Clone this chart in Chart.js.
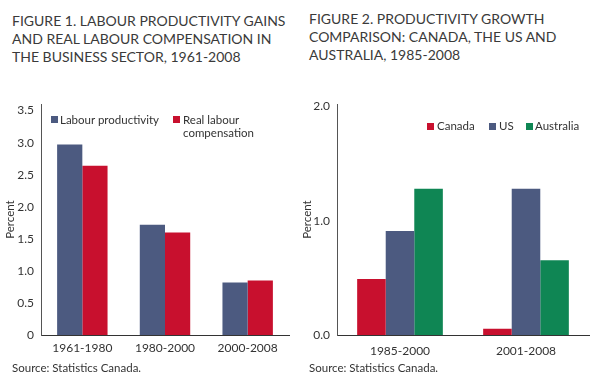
<!DOCTYPE html>
<html lang="en">
<head>
    <meta charset="UTF-8">
    <title>Productivity figures</title>
    <script src="https://cdn.jsdelivr.net/npm/chart.js"></script>
    <style>
        body {
            margin: 0;
            width: 590px;
            height: 383px;
            background: #ffffff;
            font-family: Lato, "Open Sans", sans-serif;
            color: #333333;
            position: relative;
            overflow: hidden;
        }
        .fig-title {
            position: absolute;
            font-size: 14px;
            line-height: 18px;
            color: #3a3a3a;
            white-space: nowrap;
        }
        .source {
            position: absolute;
            font-size: 11.5px;
            top: 361px;
            color: #333;
        }
        .legend-item {
            position: absolute;
            font-size: 11.5px;
            line-height: 13px;
            color: #333;
            white-space: nowrap;
        }
        .swatch {
            position: absolute;
            width: 7px;
            height: 7px;
        }
        canvas {
            position: absolute;
        }
    </style>
</head>
<body>
    <div class="fig-title" style="left:12px; top:12px;">FIGURE 1. LABOUR PRODUCTIVITY GAINS<br>AND REAL LABOUR COMPENSATION IN<br>THE BUSINESS SECTOR, 1961-2008</div>
    <div class="fig-title" style="left:309px; top:10px;">FIGURE 2. PRODUCTIVITY GROWTH<br>COMPARISON: CANADA, THE US AND<br>AUSTRALIA, 1985-2008</div>

    <canvas id="fig1" width="295" height="275" style="left:0; top:90px;"></canvas>
    <canvas id="fig2" width="290" height="275" style="left:300px; top:90px;"></canvas>

    <!-- legends -->
    <div class="swatch" style="left:51px; top:116px; background:#4c5a80;"></div>
    <div class="legend-item" style="left:60px; top:113px;">Labour productivity</div>
    <div class="swatch" style="left:173px; top:116px; background:#c8102e;"></div>
    <div class="legend-item" style="left:183px; top:113px;">Real labour<br>compensation</div>

    <div class="swatch" style="left:427px; top:123px; background:#c8102e;"></div>
    <div class="legend-item" style="left:437px; top:119px;">Canada</div>
    <div class="swatch" style="left:489px; top:123px; background:#4c5a80;"></div>
    <div class="legend-item" style="left:499px; top:119px;">US</div>
    <div class="swatch" style="left:526px; top:123px; background:#0f8654;"></div>
    <div class="legend-item" style="left:535px; top:119px;">Australia</div>

    <div class="source" style="left:12px;">Source: Statistics Canada.</div>
    <div class="source" style="left:309px;">Source: Statistics Canada.</div>

    <script>
        // Figure 1 data
        const fig1Periods = ['1961-1980', '1980-2000', '2000-2008'];
        const labourProductivity = [2.97, 1.72, 0.82];
        const realCompensation = [2.64, 1.60, 0.85];
        const fig1TickValues = [0, 0.5, 1.0, 1.5, 2.0, 2.5, 3.0, 3.5];

        // Figure 2 data
        const fig2Periods = ['1985-2000', '2001-2008'];
        const canada = [0.49, 0.055];
        const us = [0.91, 1.28];
        const australia = [1.28, 0.655];
        const fig2TickValues = [0, 1.0, 2.0];

        const navy = '#4c5a80';
        const red = '#c8102e';
        const green = '#0f8654';
        const tickFont = { family: 'Lato, "Open Sans", sans-serif', size: 12 };

        function baseOptions(yWidth, yMax, tickValues, tickFmt, xPad, titlePad, padding) {
            return {
                responsive: false,
                animation: false,
                layout: { padding: padding },
                plugins: { legend: { display: false }, tooltip: { enabled: false } },
                scales: {
                    x: {
                        grid: { display: false, drawTicks: false },
                        border: { display: true, color: '#333', width: 1 },
                        ticks: { color: '#333', font: tickFont, padding: xPad },
                        afterFit: function (s) { s.height = 30; }
                    },
                    y: {
                        min: 0,
                        max: yMax,
                        grid: { display: false, drawTicks: false },
                        border: { display: true, color: '#555', width: 1 },
                        ticks: {
                            color: '#333',
                            font: tickFont,
                            padding: 7,
                            callback: tickFmt
                        },
                        afterBuildTicks: function (s) {
                            s.ticks = tickValues.map(v => ({ value: v }));
                        },
                        title: {
                            display: true,
                            text: 'Percent',
                            color: '#333',
                            font: { family: tickFont.family, size: 11.5 },
                            padding: { top: titlePad, bottom: 0 }
                        },
                        afterFit: function (s) { s.width = yWidth; }
                    }
                }
            };
        }

        new Chart(document.getElementById('fig1'), {
            type: 'bar',
            data: {
                labels: fig1Periods,
                datasets: [
                    { label: 'Labour productivity', data: labourProductivity, backgroundColor: navy,
                      categoryPercentage: 0.61, barPercentage: 1.0 },
                    { label: 'Real labour compensation', data: realCompensation, backgroundColor: red,
                      categoryPercentage: 0.61, barPercentage: 1.0 }
                ]
            },
            options: baseOptions(41, 3.6, fig1TickValues,
                v => v === 0 ? '0' : Number(v).toFixed(1), 6, 3,
                { left: 0, right: 6, top: 13, bottom: 0 })
        });

        new Chart(document.getElementById('fig2'), {
            type: 'bar',
            data: {
                labels: fig2Periods,
                datasets: [
                    { label: 'Canada', data: canada, backgroundColor: red,
                      categoryPercentage: 0.68, barPercentage: 1.0 },
                    { label: 'US', data: us, backgroundColor: navy,
                      categoryPercentage: 0.68, barPercentage: 1.0 },
                    { label: 'Australia', data: australia, backgroundColor: green,
                      categoryPercentage: 0.68, barPercentage: 1.0 }
                ]
            },
            options: baseOptions(37, 2.02, fig2TickValues,
                v => Number(v).toFixed(1), 9, 0,
                { left: 0, right: 1, top: 13, bottom: 0 })
        });
    </script>
</body>
</html>
